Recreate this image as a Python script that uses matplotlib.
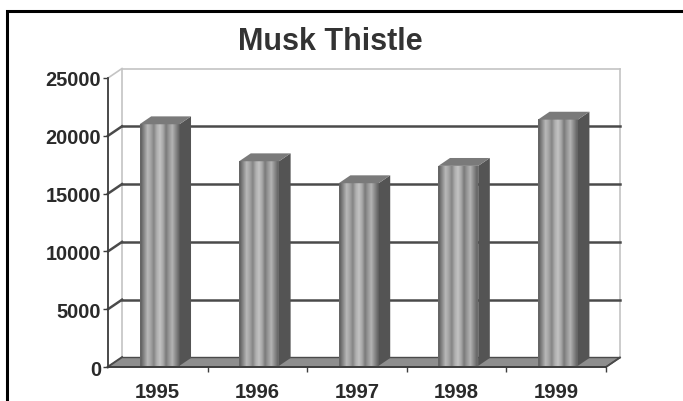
import numpy as np
import matplotlib.pyplot as plt
from matplotlib.patches import Polygon, Rectangle

# data
years = ['1995', '1996', '1997', '1998', '1999']
plants = [20900, 17700, 15800, 17300, 21300]
y_ticks = [0, 5000, 10000, 15000, 20000, 25000]

plt.rcParams['font.family'] = ['Liberation Sans', 'DejaVu Sans']

W, H = 683, 402
fig = plt.figure(figsize=(W / 100, H / 100), dpi=100)
fig.patch.set_facecolor('white')

# axes = front plane of the fake 3d box
ax = fig.add_axes([108 / W, 1 - 368 / H, (606 - 108) / W, (368 - 79) / H])
ax.patch.set_alpha(0)
xmin, xmax = -0.5, len(years) - 0.5
ymax = 25000
ax.set_xlim(xmin, xmax)
ax.set_ylim(0, ymax)

# depth offset (pixels) converted into data units
DX = 14 / (ax.bbox.width / len(years))
DY = 9.5 / (ax.bbox.height / ymax)


def shift(x, y, t):
    return (x + t * DX, y + t * DY)


dark = '#4a4a4a'
light = '#c4c4c4'

# back wall edges
for x in (xmin, xmax):
    p0, p1 = shift(x, 0, 1), shift(x, ymax, 1)
    ax.plot([p0[0], p1[0]], [p0[1], p1[1]], color=light, lw=1.2, clip_on=False, zorder=1)

# gridlines on back wall + side wall diagonals
for v in y_ticks:
    c = light if v == ymax else dark
    lw = 1.2 if v == ymax else 1.8
    a, b = shift(xmin, v, 1), shift(xmax, v, 1)
    if v > 0:
        ax.plot([a[0], b[0]], [a[1], b[1]], color=c, lw=lw, clip_on=False, zorder=2)
    ax.plot([xmin, a[0]], [v, a[1]], color=c, lw=lw, clip_on=False, zorder=2)

# floor
floor = [(xmin, 0), (xmax, 0), shift(xmax, 0, 1), shift(xmin, 0, 1)]
ax.add_patch(Polygon(floor, closed=True, fc='#8e8e8e', ec=dark, lw=1.0,
                     clip_on=False, zorder=3))

# bars
hw = 0.2
t0, t1 = 0.12, 0.95
stripes = np.array([0.40, 0.56, 0.72, 0.64, 0.52, 0.68, 0.76, 0.66,
                    0.48, 0.60, 0.70, 0.56, 0.42])
for i, v in enumerate(plants):
    x0, x1 = i - hw, i + hw
    fx0, fy0 = shift(x0, 0, t0)
    fx1, fy1 = shift(x1, v, t0)
    ax.imshow(stripes[None, :], cmap='gray', vmin=0, vmax=1,
              extent=[fx0, fx1, fy0, fy1], aspect='auto',
              interpolation='bilinear', zorder=4, clip_on=False)
    side = [shift(x1, 0, t0), shift(x1, 0, t1), shift(x1, v, t1), shift(x1, v, t0)]
    ax.add_patch(Polygon(side, closed=True, fc='#545454', ec='none',
                         clip_on=False, zorder=4))
    top = [shift(x0, v, t0), shift(x1, v, t0), shift(x1, v, t1), shift(x0, v, t1)]
    ax.add_patch(Polygon(top, closed=True, fc='#7a7a7a', ec='none',
                         clip_on=False, zorder=4))

ax.set_xlim(xmin, xmax)
ax.set_ylim(0, ymax)

# right end of floor
a = shift(xmax, 0, 1)
ax.plot([xmax, a[0]], [0, a[1]], color=dark, lw=1.3, clip_on=False, zorder=5)

# axes
for s in ('top', 'right'):
    ax.spines[s].set_visible(False)
for s in ('left', 'bottom'):
    ax.spines[s].set_color('#3c3c3c')
    ax.spines[s].set_linewidth(1.3)
    ax.spines[s].set_zorder(6)

ax.set_yticks(y_ticks)
ax.set_yticklabels([str(v) for v in y_ticks], fontweight='bold')
ax.tick_params(axis='y', length=3.6, width=1, color='#3c3c3c', pad=1.5,
               labelsize=14.4, labelcolor='#2a2a2a')

ax.set_xticks(range(len(years)))
ax.set_xticklabels(years, fontweight='bold')
ax.set_xticks([i + 0.5 for i in range(len(years))], minor=True)
ax.tick_params(axis='x', which='major', length=0, pad=11,
               labelsize=14.6, labelcolor='#2a2a2a')
ax.tick_params(axis='x', which='minor', length=3.6, width=1, color='#3c3c3c')

# title and outer frame (frame runs off the right and bottom)
fig.text(330 / W, 1 - 50 / H, 'Musk Thistle', ha='center', va='baseline',
         fontsize=22, fontweight='bold', color='#333333')
fig.add_artist(Rectangle((7 / W, -0.05), 1.2, 1.05 - 12 / H,
                         transform=fig.transFigure, fill=False,
                         ec='black', lw=2.2))

fig.savefig('out.png', dpi=100)
